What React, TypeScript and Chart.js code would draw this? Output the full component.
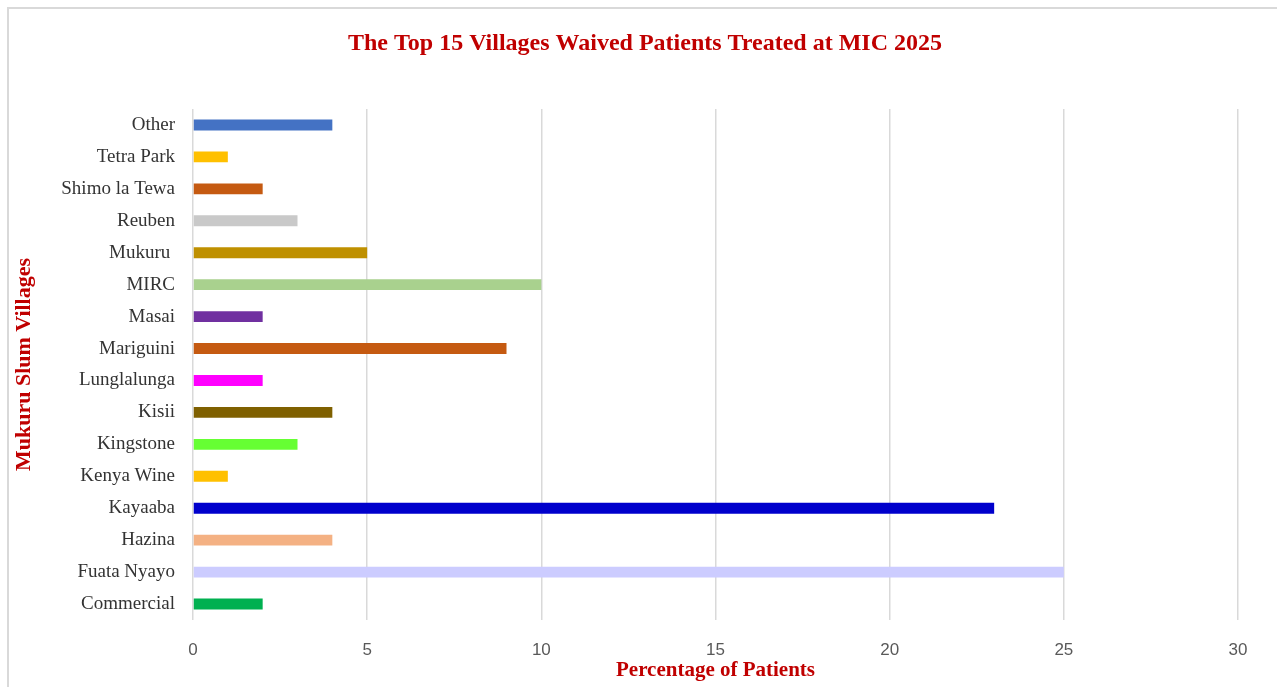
import React, { useEffect, useRef } from "react";
import { Chart, registerables } from "chart.js";

Chart.register(...registerables);

const villages = [
  "Other",
  "Tetra Park",
  "Shimo la Tewa",
  "Reuben",
  "Mukuru ",
  "MIRC",
  "Masai",
  "Mariguini",
  "Lunglalunga",
  "Kisii",
  "Kingstone",
  "Kenya Wine",
  "Kayaaba",
  "Hazina",
  "Fuata Nyayo",
  "Commercial",
];

const percentages = [4, 1, 2, 3, 5, 10, 2, 9, 2, 4, 3, 1, 23, 4, 25, 2];

const barColors = [
  "#4472C4",
  "#FFC000",
  "#C55A11",
  "#C9C9C9",
  "#BF9000",
  "#A9D18E",
  "#7030A0",
  "#C55A11",
  "#FF00FF",
  "#7F6000",
  "#66FF33",
  "#FFC000",
  "#0000CC",
  "#F4B183",
  "#CCCCFF",
  "#00B050",
];

const xTicks = [0, 5, 10, 15, 20, 25, 30];

const chartTitle = "The Top 15 Villages Waived Patients Treated at MIC 2025";
const xTitle = "Percentage of Patients";
const yTitle = "Mukuru Slum Villages";

const W = 1277;
const H = 687;

export default function App() {
  const ref = useRef<HTMLCanvasElement | null>(null);

  useEffect(() => {
    if (!ref.current) return;
    const chart = new Chart(ref.current, {
      type: "bar",
      data: {
        labels: villages,
        datasets: [
          {
            data: percentages,
            backgroundColor: barColors,
            borderWidth: 0,
            barPercentage: 0.9,
            categoryPercentage: 0.38,
          },
        ],
      },
      options: {
        indexAxis: "y",
        responsive: false,
        animation: false,
        layout: { padding: { left: 52, right: 39, top: 0, bottom: 0 } },
        plugins: {
          legend: { display: false },
          tooltip: { enabled: false },
          title: {
            display: true,
            text: chartTitle,
            color: "#C00000",
            font: { family: "'Liberation Serif', serif", size: 24, weight: "bold", lineHeight: 1.2 },
            padding: { top: 29.6, bottom: 50.6 },
          },
        },
        scales: {
          x: {
            min: 0,
            max: 30,
            afterBuildTicks: (scale: any) => {
              scale.ticks = xTicks.map((v) => ({ value: v }));
            },
            afterFit: (scale: any) => {
              scale.height = 67;
            },
            grid: { color: "#D9D9D9", lineWidth: 1.5, drawTicks: false },
            border: { display: false },
            ticks: {
              color: "#595959",
              padding: 20,
              font: { family: "'Liberation Sans', sans-serif", size: 17 },
            },
            title: {
              display: true,
              text: xTitle,
              color: "#C00000",
              font: { family: "'Liberation Serif', serif", size: 21, weight: "bold", lineHeight: 1.2 },
              padding: { top: 0, bottom: 3.4 },
            },
          },
          y: {
            afterFit: (scale: any) => {
              scale.width = 141;
            },
            grid: { display: false, drawTicks: false },
            border: { display: false },
            ticks: {
              color: "#333333",
              padding: 18,
              autoSkip: false,
              font: { family: "'Liberation Serif', serif", size: 19 },
            },
            title: {
              display: true,
              text: yTitle,
              color: "#C00000",
              font: { family: "'Liberation Serif', serif", size: 22, weight: "bold", lineHeight: 1.2 },
              padding: { top: -41.2, bottom: 0 },
            },
          },
        },
      },
    });
    return () => chart.destroy();
  }, []);

  return (
    <div
      style={{
        position: "fixed",
        left: 0,
        top: 0,
        width: W,
        height: H,
        background: "#ffffff",
        overflow: "hidden",
      }}
    >
      <div
        style={{
          position: "absolute",
          left: 7,
          top: 7,
          width: W - 7,
          height: H - 7,
          borderLeft: "2px solid #D9D9D9",
          borderTop: "2px solid #D9D9D9",
          boxSizing: "border-box",
        }}
      />
      <canvas
        ref={ref}
        width={W}
        height={H}
        style={{ position: "absolute", left: 0, top: 0, width: W, height: H }}
      />
    </div>
  );
}
